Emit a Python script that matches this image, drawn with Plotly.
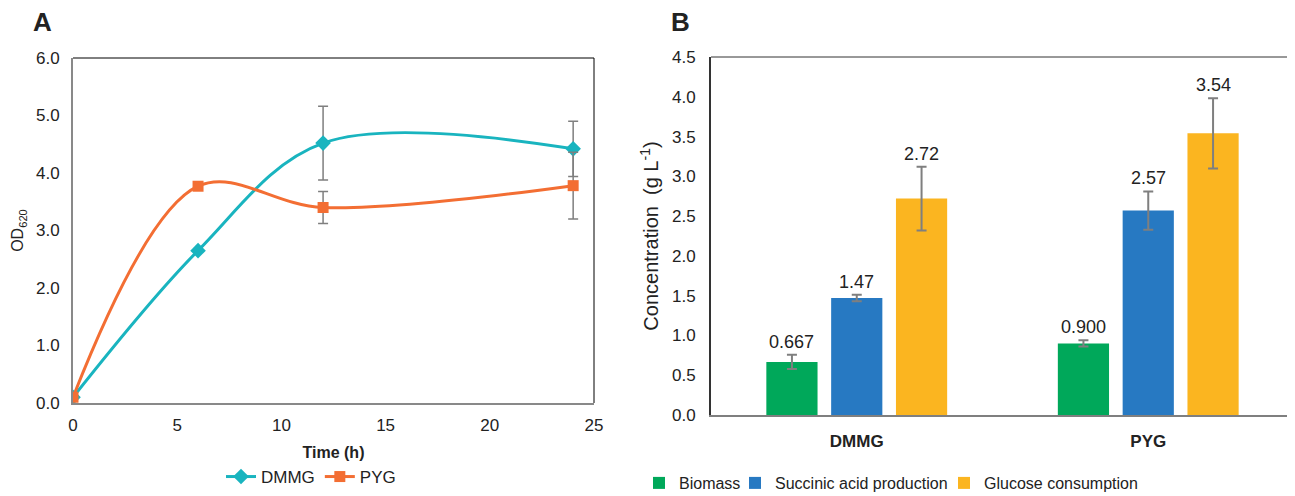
import plotly.graph_objects as go

W, H = 1295, 496
OFF = 8  # default page body margin
FW, FH = W - OFF, H - OFF

# ---- Panel A data ----
time_h = [0, 6, 12, 24]
dmmg_od = [0.10, 2.65, 4.52, 4.42]
dmmg_err = [0.0, 0.0, 0.64, 0.48]
pyg_od = [0.10, 3.77, 3.40, 3.78]
pyg_err = [0.0, 0.0, 0.28, 0.58]

# ---- Panel B data ----
media = ["DMMG", "PYG"]
biomass = [0.667, 0.900]
biomass_err = [0.09, 0.04]
succinic = [1.47, 2.57]
succinic_err = [0.04, 0.24]
glucose = [2.72, 3.54]
glucose_err = [0.40, 0.44]
bar_labels = [["0.667", "0.900"], ["1.47", "2.57"], ["2.72", "3.54"]]

FONT = "Liberation Sans, Arial, Helvetica, sans-serif"
TEAL = "#19B4BF"
ORANGE = "#F36E33"
GREEN = "#00A85A"
BLUE = "#2779C2"
YELLOW = "#FBB520"
ERR = "#7F7F7F"
TXT = "#222222"

def px_x(p):
    return (p - OFF) / FW

def px_y(p):
    return 1 - (p - OFF) / FH

fig = go.Figure()

fig.add_trace(go.Scatter(
    x=time_h, y=dmmg_od, name="DMMG", mode="lines+markers",
    line=dict(color=TEAL, width=3, shape="spline", smoothing=1.0),
    marker=dict(symbol="diamond", size=12, color=TEAL),
    error_y=dict(type="data", array=dmmg_err, color=ERR, thickness=1.5, width=5),
    xaxis="x", yaxis="y", legend="legend"))
fig.add_trace(go.Scatter(
    x=time_h, y=pyg_od, name="PYG", mode="lines+markers",
    line=dict(color=ORANGE, width=3, shape="spline", smoothing=1.0),
    marker=dict(symbol="square", size=11, color=ORANGE),
    error_y=dict(type="data", array=pyg_err, color=ERR, thickness=1.5, width=5),
    xaxis="x", yaxis="y", legend="legend"))

bar_series = [("Biomass", biomass, biomass_err, GREEN, "legend2"),
              ("Succinic acid production", succinic, succinic_err, BLUE, "legend3"),
              ("Glucose consumption", glucose, glucose_err, YELLOW, "legend4")]
for name, vals, errs, col, leg in bar_series:
    fig.add_trace(go.Bar(
        x=media, y=vals, name=name, marker=dict(color=col, line=dict(width=0)),
        error_y=dict(type="data", array=errs, color=ERR, thickness=2, width=5),
        xaxis="x2", yaxis="y2", legend=leg))

bargap = 0.333
bargroupgap = 0.21
slot = (1 - bargap) / 3
annotations = []
for j, (name, vals, errs, col, leg) in enumerate(bar_series):
    for i, v in enumerate(vals):
        annotations.append(dict(
            x=i + (j - 1) * slot, y=v + errs[i], xref="x2", yref="y2",
            text=bar_labels[j][i], showarrow=False, yanchor="bottom", yshift=1,
            font=dict(family=FONT, size=18, color=TXT)))

annotations += [
    dict(x=px_x(42), y=px_y(22), xref="paper", yref="paper", text="<b>A</b>",
         xanchor="center", yanchor="middle",
         showarrow=False, font=dict(family=FONT, size=26, color=TXT)),
    dict(x=px_x(680), y=px_y(22), xref="paper", yref="paper", text="<b>B</b>",
         xanchor="center", yanchor="middle",
         showarrow=False, font=dict(family=FONT, size=26, color=TXT)),
]

shapes = [
    dict(type="line", xref="x domain", yref="y domain", x0=0, x1=1, y0=1, y1=1,
         line=dict(color="#000000", width=1)),
    dict(type="line", xref="x domain", yref="y domain", x0=1, x1=1, y0=0, y1=1,
         line=dict(color="#000000", width=1)),
    dict(type="line", xref="x2 domain", yref="y2 domain", x0=0, x1=1, y0=1, y1=1,
         line=dict(color="#333333", width=1)),
    dict(type="line", xref="x2 domain", yref="y2 domain", x0=1, x1=1, y0=0, y1=1,
         line=dict(color="#555555", width=1.5)),
]

tickfont = dict(family=FONT, size=17, color=TXT)
legfont = dict(family=FONT, size=16, color=TXT)

def bar_legend(text_start_px):
    return dict(orientation="h", x=px_x(text_start_px - 40), xanchor="left",
                y=px_y(483), yanchor="middle", font=legfont,
                bgcolor="rgba(0,0,0,0)", itemwidth=30)

fig.update_layout(
    width=FW, height=FH,
    margin=dict(l=0, r=0, t=0, b=0, autoexpand=False),
    paper_bgcolor="white", plot_bgcolor="white",
    font=dict(family=FONT, color=TXT),
    barmode="group", bargap=bargap, bargroupgap=bargroupgap,
    xaxis=dict(domain=[px_x(73), px_x(594)], range=[0, 25], dtick=5,
               showgrid=False, zeroline=False, showline=True, automargin=False,
               linecolor="#898989", linewidth=2, ticks="", tickfont=tickfont,
               ticklabelstandoff=6,
               title=dict(text="<b>Time (h)</b>", font=dict(family=FONT, size=16, color=TXT),
                          standoff=12),
               anchor="y"),
    yaxis=dict(domain=[px_y(403), px_y(58)], range=[0, 6], dtick=1, tickformat=".1f",
               showgrid=False, zeroline=False, showline=True, automargin=False,
               linecolor="#898989", linewidth=2, ticks="", tickfont=tickfont,
               ticklabelstandoff=8,
               title=dict(text="OD<sub>620</sub>", font=dict(family=FONT, size=16, color=TXT),
                          standoff=8),
               anchor="x"),
    xaxis2=dict(domain=[px_x(711), px_x(1294)], showgrid=False, zeroline=False,
                showline=True, automargin=False, linecolor="#7F7F7F", linewidth=2, ticks="",
                tickfont=dict(family=FONT, size=17, color=TXT, weight="bold"),
                ticklabelstandoff=10,
                anchor="y2"),
    yaxis2=dict(domain=[px_y(415), px_y(57)], range=[0, 4.5], dtick=0.5, tickformat=".1f",
                showgrid=False, zeroline=False, showline=True, automargin=False,
                linecolor="#333333", linewidth=2, ticks="", tickfont=tickfont,
                ticklabelstandoff=10,
                title=dict(text="Concentration  (g L<sup>-1</sup>)",
                           font=dict(family=FONT, size=20, color=TXT), standoff=8),
                anchor="x2"),
    legend=dict(orientation="h", x=px_x(311), xanchor="center", y=px_y(477), yanchor="middle",
                font=dict(family=FONT, size=17, color=TXT), bgcolor="rgba(0,0,0,0)",
                itemwidth=30),
    legend2=bar_legend(679),
    legend3=bar_legend(775),
    legend4=bar_legend(984),
    annotations=annotations,
    shapes=shapes,
    showlegend=True,
)

fig.write_html("out.html")
